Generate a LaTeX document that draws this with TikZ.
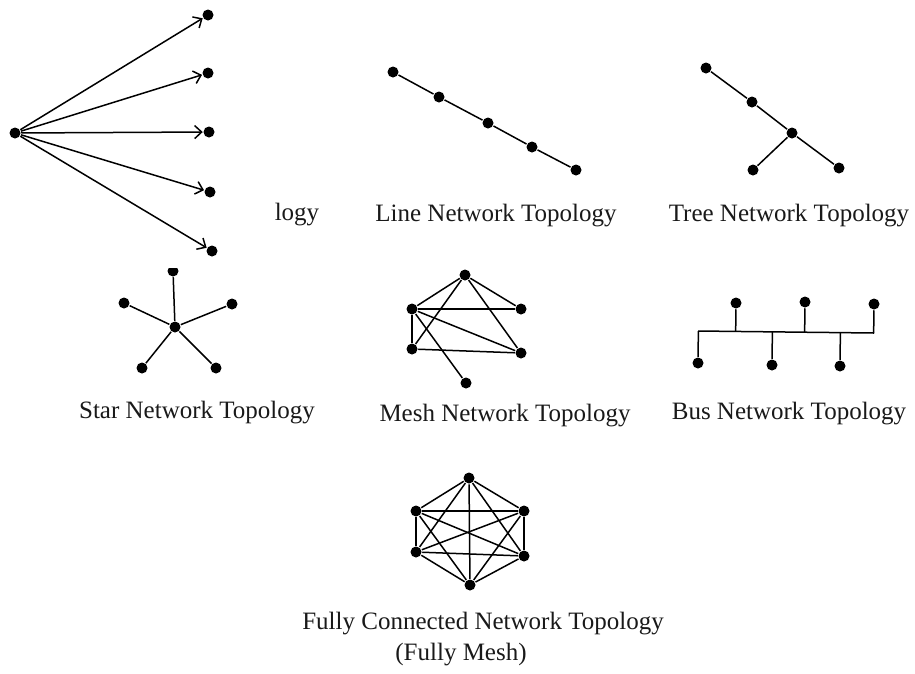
\documentclass[tikz,border=0pt]{standalone}
\usepackage{fontspec}
\setmainfont{Liberation Serif}
\usetikzlibrary{arrows.meta,positioning,calc}

\begin{document}
\begin{tikzpicture}[x=1pt,y=-1pt,line width=1.5pt,
  dot/.style={circle,fill=black,inner sep=0pt,minimum size=11pt},
  lbl/.style={anchor=base,font=\fontsize{25}{30}\selectfont,text=black!90},
  >={Straight Barb[length=7pt,width=13pt]}]
\useasboundingbox (0,0) rectangle (915,673);
% point to multipoint
\node[dot] (pc) at (15,133) {};
\node[dot] (p1) at (208,15) {};
\node[dot] (p2) at (208,73) {};
\node[dot] (p3) at (209,132) {};
\node[dot] (p4) at (210,192) {};
\node[dot] (p5) at (212,251) {};
\foreach \i in {1,...,5} \draw[->] (pc)--(p\i);
\node[lbl] (plab) at (297,220) {logy};
% line
\node[dot] (l1) at (393,72) {};
\node[dot] (l2) at (439,97) {};
\node[dot] (l3) at (488,123) {};
\node[dot] (l4) at (532,147) {};
\node[dot] (l5) at (576,170) {};
\draw (l1)--(l2)--(l3)--(l4)--(l5);
\node[lbl] (llab) at (496,221) {Line Network Topology};
% tree
\node[dot] (t1) at (706,68) {};
\node[dot] (t2) at (752,102) {};
\node[dot] (t3) at (792,133) {};
\node[dot] (t4) at (753,170) {};
\node[dot] (t5) at (839,168) {};
\draw (t1)--(t2)--(t3)--(t5);\draw (t3)--(t4);
\node[lbl] (tlab) at (789,221) {Tree Network Topology};
% star
\begin{scope}
\clip (60,268) rectangle (340,440);
\node[dot] (sc) at (175,327) {};
\node[dot] (s1) at (173,271) {};
\node[dot] (s2) at (124,303) {};
\node[dot] (s3) at (232,304) {};
\node[dot] (s4) at (142,368) {};
\node[dot] (s5) at (216,368) {};
\foreach \i in {1,...,5} \draw (sc)--(s\i);
\end{scope}
\node[lbl] (slab) at (197,418) {Star Network Topology};
% mesh
\node[dot] (m1) at (465,275) {};
\node[dot] (m2) at (412,309) {};
\node[dot] (m3) at (521,309) {};
\node[dot] (m4) at (412,349) {};
\node[dot] (m5) at (521,353) {};
\node[dot] (m6) at (466,383) {};
\draw (m1)--(m2);\draw (m1)--(m3);\draw (m1)--(m4);\draw (m1)--(m5);
\draw (m2)--(m3);\draw (m2)--(m4);\draw (m2)--(m5);\draw (m2)--(m6);
\draw (m4)--(m5);
\node[lbl] (mlab) at (505,421) {Mesh Network Topology};
% bus
\coordinate (busL) at (698,331);
\coordinate (busR) at (874,333);
\node[dot] (b1) at (736,303) {};
\node[dot] (b2) at (805,302) {};
\node[dot] (b3) at (874,304) {};
\node[dot] (b4) at (698,363) {};
\node[dot] (b5) at (772,365) {};
\node[dot] (b6) at (840,366) {};
\draw (busL)--(busR);
\foreach \i in {1,...,6} \draw (b\i)--($(busL)!(b\i)!(busR)$);
\node[lbl] (blab) at (789,419) {Bus Network Topology};
% fully connected
\node[dot] (f1) at (469,478) {};
\node[dot] (f2) at (524,511) {};
\node[dot] (f3) at (524,556) {};
\node[dot] (f4) at (470,585) {};
\node[dot] (f5) at (416,552) {};
\node[dot] (f6) at (416,511) {};
\foreach \i in {1,...,5}{
  \pgfmathtruncatemacro\k{\i+1}
  \foreach \j in {\k,...,6} \draw (f\i)--(f\j);
}
\node[lbl] (flab) at (483,629) {Fully Connected Network Topology};
\node[lbl] (flab2) at (461,660) {(Fully Mesh)};
\end{tikzpicture}
\end{document}
